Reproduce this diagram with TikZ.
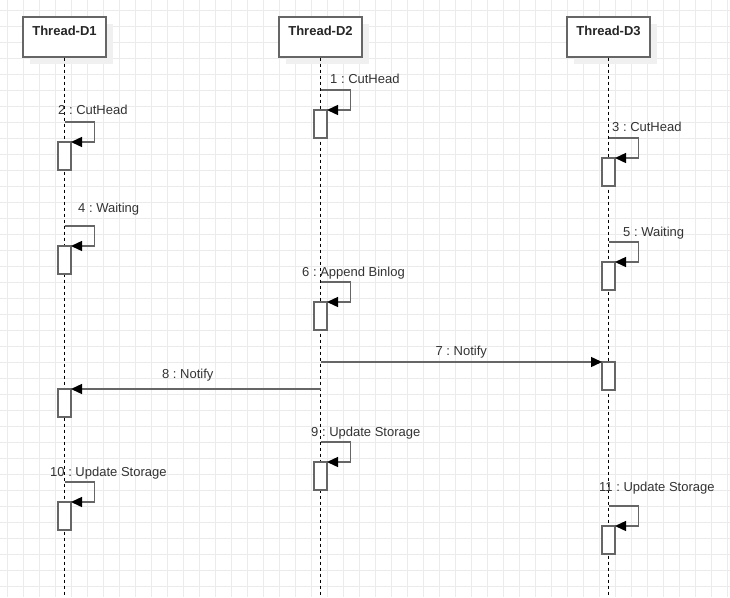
\documentclass[tikz,border=0pt]{standalone}
\usepackage{fontspec}
\setmainfont{Liberation Sans}
\usetikzlibrary{arrows.meta,shadows}
\frenchspacing

\definecolor{linegray}{HTML}{666666}
\definecolor{gridgray}{HTML}{EBEBEB}
\definecolor{textgray}{HTML}{333333}

\tikzset{
    gridline/.style={draw=gridgray, line width=0.8pt},
    thread/.style={draw=linegray, line width=1.4pt, fill=white,
        minimum width=83pt, inner sep=4pt, text height=14pt, text depth=18pt,
        font=\fontsize{13}{15}\selectfont\bfseries, text=black!85,
        drop shadow={shadow xshift=7pt, shadow yshift=-7pt, fill=black!6, opacity=1}},
    lifeline/.style={draw=black, line width=1.2pt, dash pattern=on 3pt off 3pt},
    act/.style={draw=linegray, line width=1.4pt, fill=white, inner sep=0pt,
        outer sep=0pt, minimum width=13pt, minimum height=28pt},
    msg/.style={draw=linegray, line width=1.4pt,
        -{Triangle[length=11pt,width=10pt,color=black]}},
    msglabel/.style={font=\fontsize{13}{15}\selectfont, text=textgray, inner sep=0pt}
}

\begin{document}
\begin{tikzpicture}[x=1pt,y=-1pt]
\useasboundingbox (0,0) rectangle (730,597);
\fill[white] (0,0) rectangle (730,597);

% grid
\foreach \gx in {7,23,...,727}
    \draw[gridline] (\gx,0) -- (\gx,597);
\foreach \gy in {10,26,...,586}
    \draw[gridline] (0,\gy) -- (730,\gy);

% threads
\node[thread] (d1) at (64.5,37) {Thread-D1};
\node[thread] (d2) at (320.5,37) {Thread-D2};
\node[thread] (d3) at (608.5,37) {Thread-D3};

\coordinate (d1end) at (64.5,597);
\coordinate (d2end) at (320.5,597);
\coordinate (d3end) at (608.5,597);
\draw[lifeline] (d1) -- (d1end);
\draw[lifeline] (d2) -- (d2end);
\draw[lifeline] (d3) -- (d3end);

% activations
\node[act] (a1) at (320.5,124) {};
\node[act] (a2) at (64.5,156) {};
\node[act] (a3) at (608.5,172) {};
\node[act] (a4) at (64.5,260) {};
\node[act] (a5) at (608.5,276) {};
\node[act] (a6) at (320.5,316) {};
\node[act] (a7) at (608.5,376) {};
\node[act] (a8) at (64.5,403) {};
\node[act] (a9) at (320.5,476) {};
\node[act] (a10) at (64.5,516) {};
\node[act] (a11) at (608.5,540) {};

% self calls
\foreach \act/\lx/\ly/\txt in {a1/330/83/1 : CutHead, a2/58/114/2 : CutHead,
        a3/612/131/3 : CutHead, a4/78/212/4 : Waiting, a5/623/236/5 : Waiting,
        a6/302/276/6 : Append Binlog, a9/311/436/9 : Update Storage,
        a10/50/476/10 : Update Storage, a11/599/491/11 : Update Storage}
{
    \draw[msg] (\act.north) ++(0,-20) -- ++(30,0) |- (\act.north east);
    \node[msglabel, anchor=base west] at (\lx,\ly) {\txt};
}

% notifications
\draw[msg] (a7.north -| d2) -- (a7.north west)
    node[msglabel, midway, above=3pt] {7 : Notify};
\draw[msg] (a8.north -| d2) -- (a8.north east)
    node[msglabel, midway, above=7pt, xshift=-8pt] {8 : Notify};
\end{tikzpicture}
\end{document}
